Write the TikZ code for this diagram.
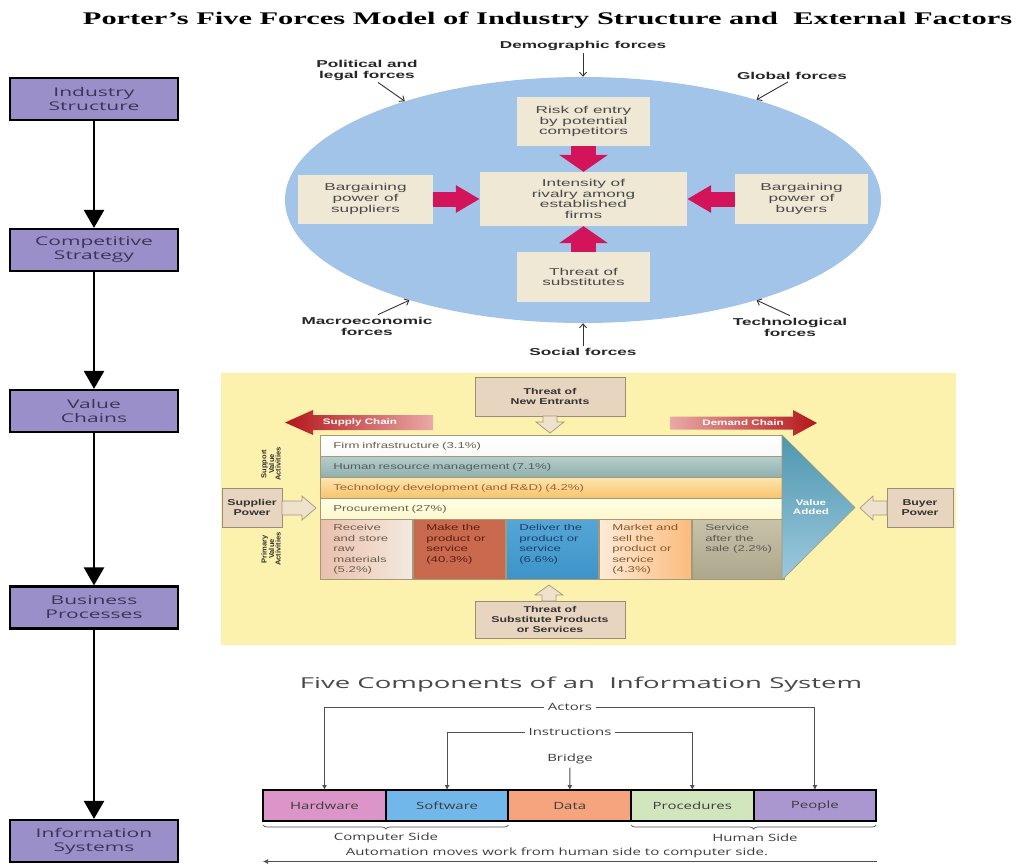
\documentclass[tikz,border=0pt]{standalone}
\usepackage{fontspec}
\setmainfont{Liberation Serif}
\newfontfamily\boxfont[FakeStretch=1.75]{Open Sans}
\newfontfamily\isfont[FakeStretch=1.5]{Open Sans}
\newfontfamily\isttlfont{Open Sans}
\newfontfamily\forcefont[FakeStretch=1.72]{Liberation Sans}
\newfontfamily\vcfont[FakeStretch=1.55]{Liberation Sans}
\newfontfamily\vcbfont[FakeStretch=1.45]{Liberation Sans}
\newfontfamily\rotfont[FakeStretch=1.05]{Liberation Sans}
\usepackage{tikz}
\usetikzlibrary{arrows.meta, shapes.geometric, decorations.pathreplacing, positioning, calc}

\definecolor{lvlpurple}{HTML}{9B8FCA}
\definecolor{lvltext}{HTML}{3C3456}
\definecolor{envblue}{HTML}{A2C4E8}
\definecolor{forcebeige}{HTML}{EFE8D5}
\definecolor{forcetext}{HTML}{4A4A4A}
\definecolor{pinkred}{HTML}{D3145A}
\definecolor{vcyellow}{HTML}{FCF2AD}
\definecolor{threatfill}{HTML}{E8D5C0}
\definecolor{threatline}{HTML}{9C8C7A}
\definecolor{hollowfill}{HTML}{EFE2CC}
\definecolor{hollowline}{HTML}{A69680}
\definecolor{chainred}{HTML}{B3161A}
\definecolor{chainpink}{HTML}{E9A9A6}
\definecolor{rowline}{HTML}{A39A7C}
\definecolor{vctext}{HTML}{6A5F4A}
\definecolor{hrtop}{HTML}{B6CECB}
\definecolor{hrbottom}{HTML}{8FB0AE}
\definecolor{techtop}{HTML}{FDE6AE}
\definecolor{techbottom}{HTML}{F8C36C}
\definecolor{makered}{HTML}{C96A4E}
\definecolor{maketext}{HTML}{5A1E12}
\definecolor{delivtop}{HTML}{55A6D6}
\definecolor{delivbottom}{HTML}{3D94C8}
\definecolor{delivtext}{HTML}{1C3F66}
\definecolor{marketorange}{HTML}{FBBB7C}
\definecolor{servtop}{HTML}{C7C2A8}
\definecolor{servbottom}{HTML}{ADA88C}
\definecolor{vateal}{HTML}{4F97AE}
\definecolor{valight}{HTML}{9CC9DF}
\definecolor{hwpink}{HTML}{DC95C8}
\definecolor{swblue}{HTML}{71B7EA}
\definecolor{datasalmon}{HTML}{F5A47E}
\definecolor{procgreen}{HTML}{D2E6BD}
\definecolor{peoplepurple}{HTML}{AA97D0}
\definecolor{comptext}{HTML}{3B3B3B}
\definecolor{compline}{HTML}{505050}

\newcommand{\celltext}[1]{\parbox[c][52pt][t]{66.4pt}{\begin{tabular}[t]{@{}l@{}}#1\end{tabular}}}

\tikzset{
  levelbox/.style={draw=black, line width=2.2pt, fill=lvlpurple, minimum width=168pt, minimum height=42pt,
    inner sep=0pt, align=center, text=lvltext, font=\boxfont\fontsize{12}{14}\selectfont},
  flow/.style={line width=2.5pt, -{Triangle[width=20pt,length=18pt]}},
  forcebox/.style={fill=forcebeige, inner sep=0pt, align=center, text=forcetext,
    font=\forcefont\fontsize{10}{10.7}\selectfont},
  forcelabel/.style={align=center, inner sep=2pt, text=black!85,
    font=\forcefont\bfseries\fontsize{10}{11}\selectfont},
  forcearrow/.style={line width=0.9pt, black!80, -{Straight Barb[length=4pt,width=7pt]}},
  vpush/.style={draw=pinkred, line width=25pt, -{Triangle[width=48pt,length=17pt]}},
  hpush/.style={draw=pinkred, line width=15pt, -{Triangle[width=26pt,length=24pt]}},
  threatbox/.style={fill=threatfill, draw=threatline, line width=0.7pt, inner sep=0pt, align=center,
    text=black!80, font=\vcbfont\bfseries\fontsize{8.5}{10}\selectfont},
  hollow/.style={fill=hollowfill, draw=hollowline, line width=0.7pt},
  vrow/.style={anchor=north west, minimum width=462pt, minimum height=21pt, text width=436pt,
    inner xsep=13pt, inner ysep=0pt, align=left, draw=rowline, line width=0.6pt, text=vctext,
    font=\vcfont\fontsize{8.5}{10.5}\selectfont},
  pcell/.style={anchor=north west, minimum width=92.4pt, minimum height=60pt, inner sep=0pt,
    draw=rowline, line width=0.6pt, font=\vcfont\fontsize{8.5}{10.5}\selectfont},
  chaintext/.style={text=white, font=\vcbfont\bfseries\fontsize{8}{9}\selectfont},
  rotlabel/.style={rotate=90, align=center, inner sep=0pt, text=black!80,
    font=\rotfont\bfseries\fontsize{7.2}{6.4}\selectfont},
  comp/.style={draw=black, line width=2pt, minimum width=122.6pt, minimum height=31pt, outer sep=0pt,
    inner sep=0pt, text=comptext, font=\isfont\fontsize{10}{12}\selectfont},
  complabel/.style={text=comptext, font=\isfont\fontsize{10}{12}\selectfont},
  comparrow/.style={line width=0.9pt, compline, -{Latex[length=5pt,width=5pt]}},
  brace/.style={decorate, decoration={brace, mirror, amplitude=4pt}, line width=0.7pt, compline}
}

\begin{document}
\begin{tikzpicture}[x=1pt, y=-1pt]
  \useasboundingbox (0,0) rectangle (1017,863);

  % title
  \node[anchor=base] (title) at (547.5,24)
    {\resizebox{929pt}{12.5pt}{\bfseries Porter's Five Forces Model of Industry Structure and\ \ External Factors}};

  % levels on the left
  \node[levelbox] (indstr) at (94,99) {Industry\\Structure};
  \node[levelbox] (compstr) at (94,250) {Competitive\\Strategy};
  \node[levelbox] (valch) at (94,411) {Value\\Chains};
  \node[levelbox] (busproc) at (94,607.5) {Business\\Processes};
  \node[levelbox] (infosys) at (94,841) {Information\\Systems};
  \draw[flow] (indstr) -- (compstr);
  \draw[flow] (compstr) -- (valch);
  \draw[flow] (valch) -- (busproc);
  \draw[flow] (busproc) -- (infosys);

  % five forces
  \node[ellipse, fill=envblue, minimum width=596pt, minimum height=246pt, inner sep=0pt] (env) at (583,200) {};
  \node[forcebox, minimum width=133pt, minimum height=49pt] (risk) at (583.5,121.5) {Risk of entry\\by potential\\competitors};
  \node[forcebox, minimum width=207pt, minimum height=54pt] (rivalry) at (583.5,199) {Intensity of\\rivalry among\\established\\firms};
  \node[forcebox, minimum width=135pt, minimum height=49pt] (suppliers) at (365.5,199) {Bargaining\\power of\\suppliers};
  \node[forcebox, minimum width=133pt, minimum height=50pt] (buyers) at (801.5,199) {Bargaining\\power of\\buyers};
  \node[forcebox, minimum width=133pt, minimum height=50pt] (substit) at (583.5,277) {Threat of\\substitutes};
  \draw[vpush] (risk) -- (rivalry);
  \draw[vpush] (substit) -- (rivalry);
  \draw[hpush] (suppliers) -- (rivalry);
  \draw[hpush] (buyers) -- (rivalry);

  % external factors
  \node[forcelabel] (demog) at (583,46) {Demographic forces};
  \node[forcelabel] (political) at (367,70) {Political and\\legal forces};
  \node[forcelabel] (global) at (792,76) {Global forces};
  \node[forcelabel] (macro) at (367,326) {Macroeconomic\\forces};
  \node[forcelabel] (techno) at (790,327) {Technological\\forces};
  \node[forcelabel] (social) at (583,352) {Social forces};
  \draw[forcearrow] (demog) -- (env.north);
  \draw[forcearrow] ([xshift=11pt]political.south) -- (env.151);
  \draw[forcearrow] ([xshift=-4pt]global.south) -- (env.30);
  \draw[forcearrow] ([xshift=11pt]macro.north) -- (env.210);
  \draw[forcearrow] (techno.north) -- (env.330);
  \draw[forcearrow] (social) -- (env.south);

  % value chain
  \fill[vcyellow] (221,373) rectangle (956,645);
  \node[threatbox, minimum width=150pt, minimum height=39pt] (newentr) at (550,396.5) {Threat of\\New Entrants};
  \node[threatbox, minimum width=150pt, minimum height=37pt] (substprod) at (550,619.5) {Threat of\\Substitute Products\\or Services};
  \node[threatbox, minimum width=60pt, minimum height=39pt] (supplier) at (252,507.5) {Supplier\\Power};
  \node[threatbox, minimum width=66pt, minimum height=39pt] (buyer) at (920,507.5) {Buyer\\Power};
  \draw[hollow] (543,416) -- (557,416) -- (557,422) -- (564,422) -- (550,433) -- (536,422) -- (543,422) -- cycle;
  \draw[hollow] (542,601) -- (542,595) -- (535,595) -- (549,585) -- (563,595) -- (556,595) -- (556,601) -- cycle;
  \draw[hollow] (282,501) -- (302,501) -- (302,496) -- (316,508) -- (302,520) -- (302,515) -- (282,515) -- cycle;
  \draw[hollow] (887,501) -- (873,501) -- (873,496) -- (860,508) -- (873,520) -- (873,515) -- (887,515) -- cycle;

  \shade[left color=chainred, right color=chainpink] (285,422.5) -- (313,410) -- (313,415) -- (433,415)
    -- (433,430) -- (313,430) -- (313,435) -- cycle;
  \node[chaintext] (supplych) at (360,422.5) {Supply Chain};
  \shade[left color=chainpink, right color=chainred] (670,416.5) -- (793,416.5) -- (793,410) -- (817,423)
    -- (793,436) -- (793,429.5) -- (670,429.5) -- cycle;
  \node[chaintext] (demandch) at (743,423) {Demand Chain};

  \node[vrow, top color=white, bottom color=white!80!rowline!30] (firminf) at (320,435) {Firm infrastructure (3.1\%)};
  \node[vrow, top color=hrtop, bottom color=hrbottom, text=black!65] (hrm) at (320,456) {Human resource management (7.1\%)};
  \node[vrow, top color=techtop, bottom color=techbottom, text=brown!80!black] (techdev) at (320,477) {Technology development (and R\&D) (4.2\%)};
  \node[vrow, top color=white!90!yellow, bottom color=vcyellow!60!white] (procure) at (320,498) {Procurement (27\%)};

  \node[pcell, left color=threatfill!90!red, right color=threatfill!50!white, text=vctext] (receive) at (320,519)
    {\celltext{Receive\\and store\\raw\\materials\\(5.2\%)}};
  \node[pcell, fill=makered, text=maketext, right=0pt of receive] (make)
    {\celltext{Make the\\product or\\service\\(40.3\%)}};
  \node[pcell, top color=delivtop, bottom color=delivbottom, text=delivtext, right=0pt of make] (deliver)
    {\celltext{Deliver the\\product or\\service\\(6.6\%)}};
  \node[pcell, left color=marketorange!30!white, right color=marketorange, text=brown!70!black, right=0pt of deliver] (market)
    {\celltext{Market and\\sell the\\product or\\service\\(4.3\%)}};
  \node[pcell, top color=servtop, bottom color=servbottom, text=black!65, right=0pt of market] (service)
    {\celltext{Service\\after the\\sale (2.2\%)}};

  \shade[top color=vateal, bottom color=valight, draw=rowline, line width=0.6pt] (782,435) -- (855,507.5) -- (782,580) -- cycle;
  \node[chaintext, align=center] (valadd) at (811,507.5) {Value\\Added};

  \node[rotlabel] (supportlbl) at (271,464) {Support\\Value\\Activities};
  \node[rotlabel] (primarylbl) at (271,549) {Primary\\Value\\Activities};

  % five components
  \node[anchor=base, text=black!72] (comptitle) at (581,688)
    {\resizebox{562pt}{11.5pt}{\isttlfont Five Components of an\ \ Information System}};
  \node[comp, fill=hwpink] (hw) at (324.5,805.5) {Hardware};
  \node[comp, fill=swblue, right=0pt of hw] (sw) {Software};
  \node[comp, fill=datasalmon, right=0pt of sw] (data) {Data};
  \node[comp, fill=procgreen, right=0pt of data] (proc) {Procedures};
  \node[comp, fill=peoplepurple, right=0pt of proc] (people) {People};

  \node[complabel] (actors) at (570,707) {Actors};
  \node[complabel] (instr) at (570,732) {Instructions};
  \node[complabel] (bridge) at (570,759) {Bridge};
  \draw[comparrow] (actors.west) -| (hw.north);
  \draw[comparrow] (actors.east) -| (people.north);
  \draw[comparrow] (instr.west) -| (sw.north);
  \draw[comparrow] (instr.east) -| (proc.north);
  \draw[comparrow] (bridge) -- (data);

  \draw[brace] ([yshift=-4pt]hw.south west) -- ([yshift=-4pt]sw.south east);
  \draw[brace] ([yshift=-4pt]proc.south west) -- ([yshift=-4pt]people.south east);
  \node[complabel] (compside) at (386,838) {Computer Side};
  \node[complabel] (humanside) at (755,838) {Human Side};

  \node[complabel] (automation) at (557,852.5) {Automation moves work from human side to computer side.};
  \coordinate (autoR) at (877,861.5);
  \coordinate (autoL) at (263,861.5);
  \draw[comparrow, line width=0.7pt] (autoR) -- (autoL);
\end{tikzpicture}
\end{document}
